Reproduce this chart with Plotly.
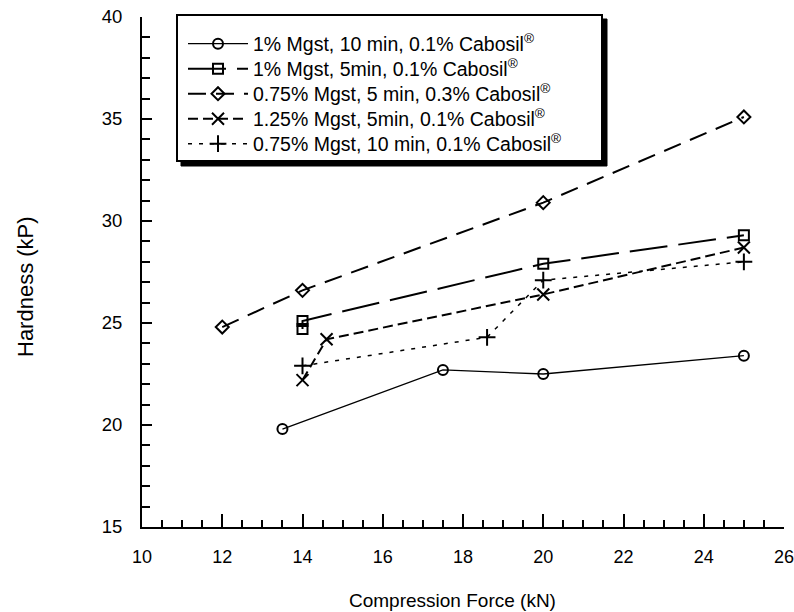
import plotly.graph_objects as go

# ---- data ----
names = [
    "1% Mgst, 10 min, 0.1% Cabosil<sup>®</sup>",
    "1% Mgst, 5min, 0.1% Cabosil<sup>®</sup>",
    "0.75% Mgst, 5 min, 0.3% Cabosil<sup>®</sup>",
    "1.25% Mgst, 5min, 0.1% Cabosil<sup>®</sup>",
    "0.75% Mgst, 10 min, 0.1% Cabosil<sup>®</sup>",
]
x_circle = [13.5, 17.5, 20, 25]
y_circle = [19.8, 22.7, 22.5, 23.4]
x_square = [14, 14, 20, 25]
y_square = [24.7, 25.1, 27.9, 29.3]
x_diamond = [12, 14, 20, 25]
y_diamond = [24.8, 26.6, 30.9, 35.1]
x_cross = [14, 14.6, 20, 25]
y_cross = [22.2, 24.2, 26.4, 28.7]
x_plus = [14, 18.6, 20, 25]
y_plus = [22.9, 24.3, 27.1, 28.0]

x_range = [10, 26]
y_range = [15, 40]

FONT = "Liberation Sans, Arial, Helvetica, sans-serif"

series = [
    (x_circle, y_circle, "circle-open", 10, "solid", 1.3),
    (x_square, y_square, "square-open", 10, "38px,11px", 2),
    (x_diamond, y_diamond, "diamond-open", 10, "18px,10px", 2),
    (x_cross, y_cross, "x-thin-open", 12, "10px,5px", 2),
    (x_plus, y_plus, "cross-thin-open", 12, "4px,7px", 1.5),
]

# plot area: x 142..784 px, y 17..527 px
L, R, T, B = 142, 10, 17, 85
W, H = 794, 612
pw, ph = W - L - R, H - T - B

def px_x(p):
    return (p - L) / pw

def px_y(p):
    return (H - B - p) / ph

legend_ids = ["legend", "legend2", "legend3", "legend4", "legend5"]
row_centers = [44, 69, 94, 119, 144]

fig = go.Figure()
for (xs, ys, sym, sz, dash, lw), nm, lid in zip(series, names, legend_ids):
    fig.add_trace(go.Scatter(
        x=xs, y=ys, mode="lines+markers", name=nm, legend=lid,
        line=dict(color="black", width=lw, dash=dash),
        marker=dict(symbol=sym, size=sz, color="black",
                    line=dict(color="black", width=2)),
    ))

legend_layout = {}
for lid, rc in zip(legend_ids, row_centers):
    legend_layout[lid] = dict(
        x=px_x(183), y=px_y(rc), xanchor="left", yanchor="middle",
        bgcolor="rgba(0,0,0,0)", borderwidth=0,
        font=dict(family=FONT, size=19.5, color="black"),
        itemwidth=60,
    )

fig.update_layout(
    width=W, height=H,
    margin=dict(l=L, r=R, t=T, b=B, autoexpand=False),
    paper_bgcolor="white", plot_bgcolor="white",
    font=dict(family=FONT, color="black", size=18),
    showlegend=True,
    xaxis=dict(
        range=x_range, dtick=2, tick0=10,
        showgrid=False, zeroline=False, automargin=False,
        showline=True, linecolor="black", linewidth=2,
        ticks="inside", ticklen=13, tickwidth=1.5, tickcolor="black",
        tickfont=dict(family=FONT, size=18, color="black"),
        ticklabelstandoff=12, ticklabeloverflow="allow",
        minor=dict(dtick=0.5, tick0=10, ticks="inside", ticklen=7,
                   tickwidth=1.5, tickcolor="black", showgrid=False),
    ),
    yaxis=dict(
        range=y_range, dtick=5, tick0=15,
        showgrid=False, zeroline=False, automargin=False,
        showline=True, linecolor="black", linewidth=2,
        ticks="inside", ticklen=10, tickwidth=1.5, tickcolor="black",
        tickfont=dict(family=FONT, size=18.5, color="black"),
        ticklabelstandoff=14, ticklabeloverflow="allow",
        minor=dict(dtick=1, tick0=15, ticks="inside", ticklen=8,
                   tickwidth=1.5, tickcolor="black", showgrid=False),
    ),
    shapes=[
        # legend shadow
        dict(type="rect", xref="paper", yref="paper",
             x0=px_x(181), x1=px_x(607), y0=px_y(166), y1=px_y(19),
             fillcolor="black", line=dict(color="black", width=1),
             layer="above"),
        # legend box
        dict(type="rect", xref="paper", yref="paper",
             x0=px_x(177), x1=px_x(602), y0=px_y(161), y1=px_y(15),
             fillcolor="white", line=dict(color="black", width=2),
             layer="above"),
    ],
    annotations=[
        dict(text="Compression Force (kN)", xref="paper", yref="paper",
             x=px_x(452), y=px_y(600), xanchor="center", yanchor="middle",
             showarrow=False, font=dict(family=FONT, size=19, color="black")),
        dict(text="Hardness (kP)", xref="paper", yref="paper",
             x=px_x(25), y=px_y(287), xanchor="center", yanchor="middle",
             textangle=-90, showarrow=False,
             font=dict(family=FONT, size=22, color="black")),
    ],
    **legend_layout,
)

fig.write_html(
    "out.html",
    config={"displayModeBar": False},
    post_script="document.body.style.margin='0px';document.body.style.overflow='hidden';",
)
